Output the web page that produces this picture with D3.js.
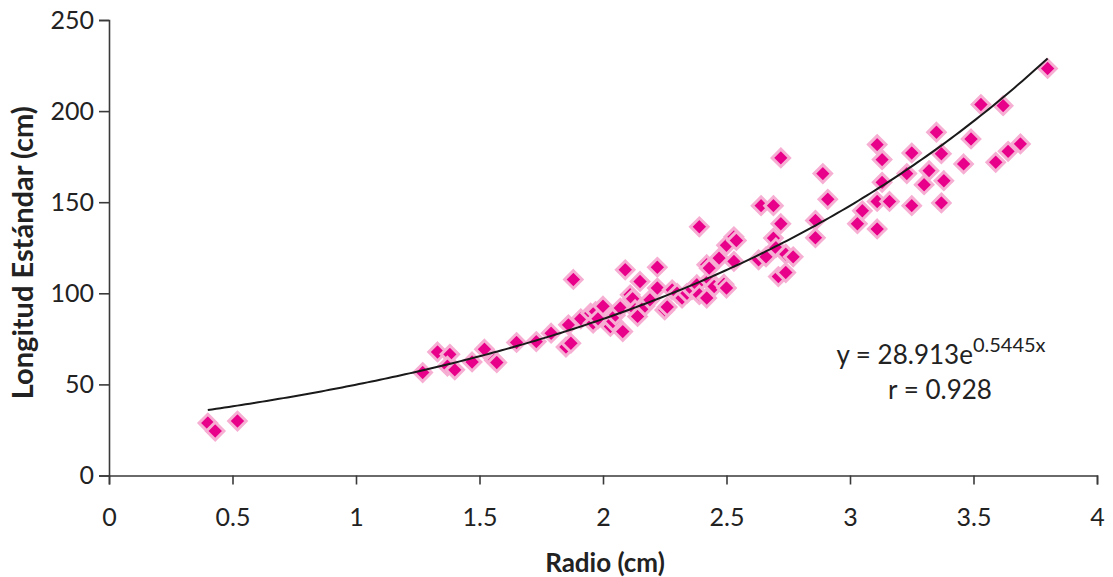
<!DOCTYPE html>
<html>
<head>
<meta charset="utf-8">
<script src="https://cdn.jsdelivr.net/npm/d3@7"></script>
<style>
  html, body { margin: 0; padding: 0; background: #fff; }
  svg { display: block; font-family: Lato, "Open Sans", sans-serif; }
</style>
</head>
<body>
<svg id="chart" width="1113" height="577"></svg>
<script>
// Radio (cm) of each specimen
const radio = [
  0.40, 0.43, 0.52,
  1.27, 1.33, 1.38, 1.37, 1.40, 1.47, 1.52, 1.56, 1.57,
  1.65, 1.73, 1.79, 1.85, 1.87, 1.86, 1.88,
  1.91, 1.95, 1.96, 1.97, 1.98, 2.00, 2.03, 2.04, 2.05, 2.07, 2.08, 2.09,
  2.11, 2.12, 2.13, 2.14, 2.15, 2.17, 2.19, 2.22, 2.22, 2.25, 2.26, 2.28, 2.30, 2.32, 2.34, 2.36,
  2.38, 2.39, 2.39, 2.42, 2.42, 2.43, 2.43, 2.45, 2.47, 2.49, 2.50, 2.50, 2.53, 2.53, 2.54,
  2.63, 2.64, 2.66, 2.69, 2.69, 2.70, 2.71, 2.72, 2.72, 2.74, 2.74, 2.77,
  2.86, 2.86, 2.89, 2.91,
  3.03, 3.05, 3.11, 3.11, 3.11, 3.13, 3.13, 3.16, 3.23, 3.25, 3.25, 3.30, 3.32, 3.35,
  3.37, 3.37, 3.38, 3.46, 3.49, 3.53, 3.59, 3.62, 3.64, 3.69, 3.80
];
// Longitud estándar (cm) of each specimen
const longitud = [
  28.8, 24.4, 29.9,
  56.5, 67.8, 66.5, 60.0, 58.0, 62.3, 69.3, 63.3, 62.0,
  73.0, 73.5, 78.1, 70.5, 72.6, 82.7, 107.6,
  86.0, 89.1, 83.6, 90.0, 86.0, 92.9, 81.8, 84.5, 88.0, 91.9, 79.0, 112.9,
  99.2, 97.0, 91.0, 87.3, 106.5, 93.0, 96.4, 114.3, 102.9, 90.9, 92.5, 101.9, 100.0, 97.4, 100.0, 102.0,
  104.7, 136.5, 99.2, 97.4, 115.7, 107.4, 113.8, 103.7, 119.3, 105.0, 102.9, 126.4, 117.5, 131.0, 129.0,
  118.4, 148.1, 120.0, 148.1, 130.3, 125.0, 109.2, 138.2, 174.3, 121.5, 111.4, 120.0,
  140.0, 130.5, 165.7, 151.6,
  138.2, 145.3, 135.3, 150.4, 181.6, 173.4, 160.9, 150.4, 165.7, 177.0, 148.1, 159.6, 167.3, 188.4,
  176.6, 149.6, 161.8, 171.0, 184.7, 203.6, 171.9, 203.0, 177.9, 182.0, 223.4
];

// Exponential fit y = a·e^(b·x)
const fitA = 28.913;
const fitB = 0.5445;
const fitR = 0.928;

const xTicks = [0, 0.5, 1, 1.5, 2, 2.5, 3, 3.5, 4];
const yTicks = [0, 50, 100, 150, 200, 250];

const svg = d3.select("#chart");
const x = d3.scaleLinear().domain([0, 4]).range([109, 1097]);
const y = d3.scaleLinear().domain([0, 250]).range([475.5, 20]);

const axisColor = "#3a3a3a";
const textColor = "#222";

// Axes
const xAxis = svg.append("g")
  .attr("transform", `translate(0,${y(0)})`)
  .call(d3.axisBottom(x).tickValues(xTicks).tickSize(9).tickPadding(24)
    .tickFormat(d => String(d)));
const yAxis = svg.append("g")
  .attr("transform", `translate(${x(0)},0)`)
  .call(d3.axisLeft(y).tickValues(yTicks).tickSize(10).tickPadding(5));

[xAxis, yAxis].forEach(g => {
  g.select(".domain").attr("stroke", axisColor).attr("stroke-width", 1.6);
  g.selectAll(".tick line").attr("stroke", axisColor).attr("stroke-width", 1.6);
  g.selectAll(".tick text")
    .attr("fill", textColor)
    .style("font-family", "Lato, sans-serif")
    .style("font-size", "25px");
});

// Axis titles
svg.append("text")
  .attr("x", 605).attr("y", 572)
  .attr("text-anchor", "middle")
  .attr("fill", textColor)
  .style("font-size", "26px").style("font-weight", "bold")
  .text("Radio  (cm)");

svg.append("text")
  .attr("transform", `translate(33,${y(125) + 5}) rotate(-90)`)
  .attr("text-anchor", "middle")
  .attr("fill", textColor)
  .style("font-size", "29px").style("font-weight", "bold")
  .text("Longitud Estándar  (cm)");

// Scatter points as diamonds
const diamond = d3.symbol().type(d3.symbolDiamond2).size(195);
const pts = radio.map((r, i) => ({ r, l: longitud[i] }));
svg.append("g").selectAll("path")
  .data(pts)
  .join("path")
  .attr("d", diamond)
  .attr("transform", d => `translate(${x(d.r)},${y(d.l)})`)
  .attr("fill", "#e8008a")
  .attr("stroke", "#f6aed3")
  .attr("stroke-width", 3);

// Trend line
const xMin = d3.min(radio), xMax = d3.max(radio);
const curve = d3.range(0, 201).map(i => {
  const xv = xMin + (xMax - xMin) * i / 200;
  return [xv, fitA * Math.exp(fitB * xv)];
});
svg.append("path")
  .datum(curve)
  .attr("fill", "none")
  .attr("stroke", "#1a1a1a")
  .attr("stroke-width", 2)
  .attr("d", d3.line().x(d => x(d[0])).y(d => y(d[1])));

// Equation and correlation
const eq = svg.append("text")
  .attr("x", 941).attr("y", 364)
  .attr("text-anchor", "middle")
  .attr("fill", textColor)
  .style("font-size", "26px");
eq.append("tspan").text(`y = ${fitA}e`);
eq.append("tspan").attr("dy", -12).style("font-size", "20px").text(`${fitB}x`);

svg.append("text")
  .attr("x", 940).attr("y", 399)
  .attr("text-anchor", "middle")
  .attr("fill", textColor)
  .style("font-size", "26px")
  .text(`r = ${fitR}`);
</script>
</body>
</html>
